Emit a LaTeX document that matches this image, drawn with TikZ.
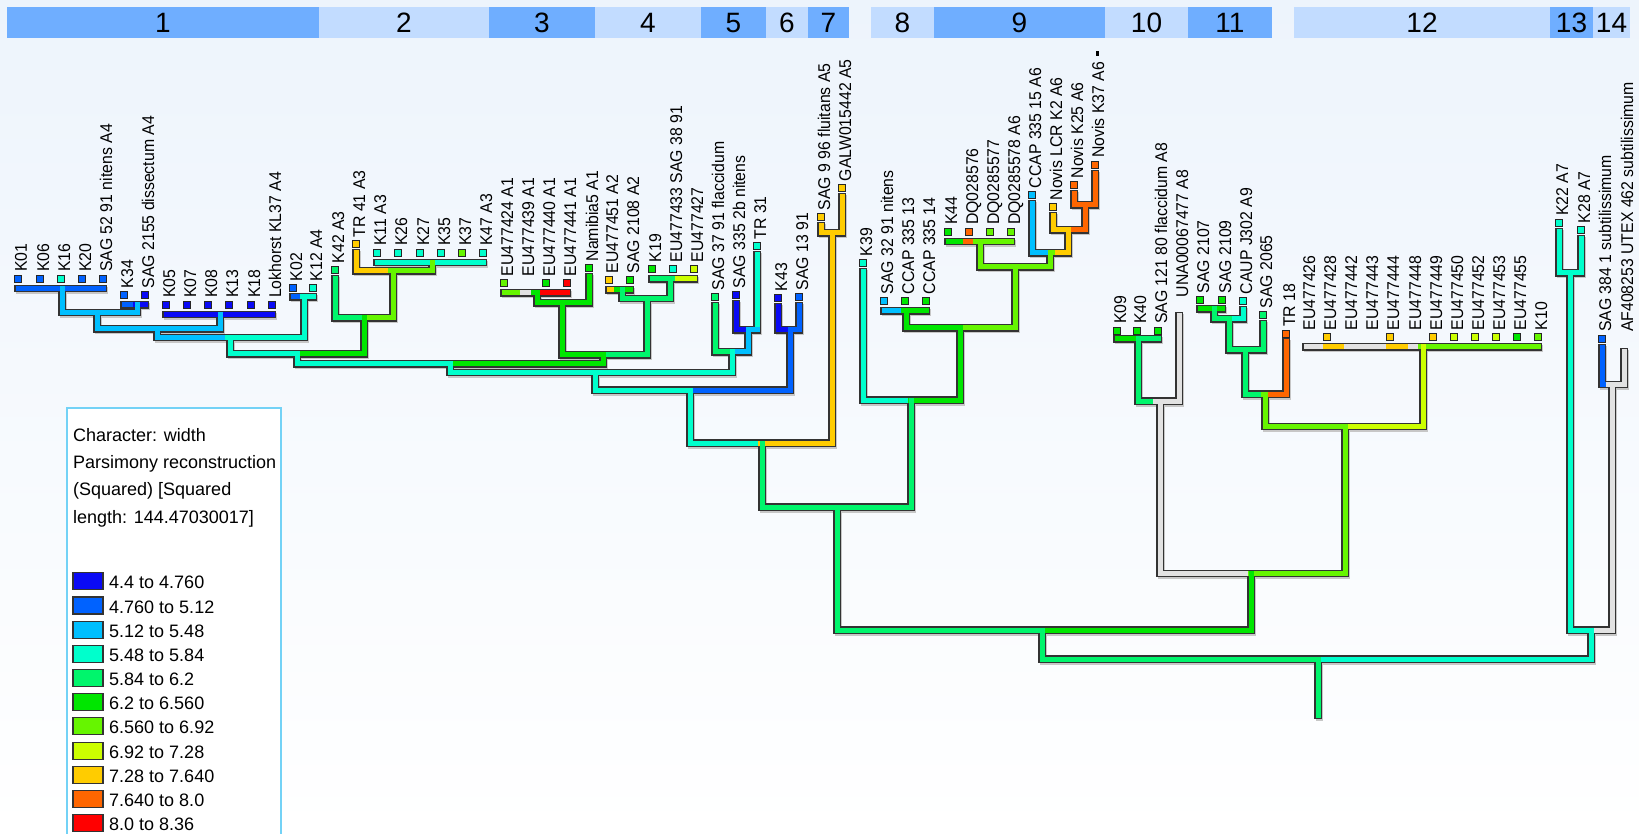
\documentclass[tikz,border=0pt]{standalone}
\usepackage{fontspec}
\setmainfont{Liberation Sans}
\newfontfamily\labfont{Liberation Sans}[FakeStretch=0.93]
\pgfdeclarelayer{back}\pgfdeclarelayer{shad}\pgfdeclarelayer{ol}
\pgfsetlayers{back,shad,ol,main}
\definecolor{c1}{HTML}{0A0AF5}
\definecolor{c2}{HTML}{0062FF}
\definecolor{c3}{HTML}{00BFFF}
\definecolor{c4}{HTML}{00FFCC}
\definecolor{c5}{HTML}{00F56C}
\definecolor{c6}{HTML}{00E600}
\definecolor{c7}{HTML}{66F500}
\definecolor{c8}{HTML}{CCFF00}
\definecolor{c9}{HTML}{FFCC00}
\definecolor{c10}{HTML}{FF6600}
\definecolor{c11}{HTML}{FF0000}
\definecolor{cg}{HTML}{E2E2E2}
\definecolor{bard}{HTML}{6FAEFF}
\definecolor{barl}{HTML}{C2DCFF}
\definecolor{bgtop}{HTML}{EDF4FC}
\tikzset{
  outline/.style={line width=7.4pt, black!80, line cap=rect},
  fillline/.style={line width=5pt, line cap=rect},
  shadowline/.style={line width=7.4pt, black!22, line cap=rect},
  tipsq/.style={draw=black!85, line width=0.8pt, minimum size=7pt, inner sep=0pt},
  lab/.style={rotate=90, anchor=base west, inner sep=0pt, font=\labfont\fontsize{17}{17}\selectfont},
  topnum/.style={anchor=base, inner sep=0pt, font=\fontsize{28}{28}\selectfont},
  legtxt/.style={anchor=base west, inner sep=0pt, font=\fontsize{18}{18}\selectfont},
  swatch/.style={draw=black!80, line width=1.2pt}
}
\newcommand\HB[4]{%
  \begin{pgfonlayer}{shad}\draw[shadowline] (#3+1.5,#2+1.8) -- (#4+1.5,#2+1.8);\end{pgfonlayer}
  \begin{pgfonlayer}{ol}\draw[outline] (#3,#2) -- (#4,#2);\end{pgfonlayer}
  \draw[fillline,#1] (#3,#2) -- (#4,#2);}
\newcommand\VB[4]{%
  \begin{pgfonlayer}{shad}\draw[shadowline] (#2+1.5,#3+1.8) -- (#2+1.5,#4+1.8);\end{pgfonlayer}
  \begin{pgfonlayer}{ol}\draw[outline] (#2,#3) -- (#2,#4);\end{pgfonlayer}
  \draw[fillline,#1] (#2,#3) -- (#2,#4);}
\newcommand\TQ[5]{%
  \node[tipsq,fill=#4] (#1) at (#2,#3) {};
  \node[lab] (#1-l) at (#2+9,#3-6.5) {#5};}
\newcommand\TN[4]{%
  \coordinate (#1) at (#2,#3);
  \node[lab] (#1-l) at (#2+9,#3-6.5) {#4};}
\newcommand\TOPSEG[4]{%
  \fill[#3] (#1,7) rectangle (#2,38);
  \node[topnum] at ({(#1+#2)/2},32.5) {#4};}
\newcommand\LEG[3]{%
  \draw[swatch,fill=#2] (73,#1-9.5) rectangle (103,#1+7.5);
  \node[legtxt] at (109,#1+6.5) {#3};}
\begin{document}
\begin{tikzpicture}[x=1pt,y=-1pt]
\useasboundingbox (0,0) rectangle (1639,834);
\begin{pgfonlayer}{back}
\shade[top color=bgtop, bottom color=white] (0,0) rectangle (1639,834);
\end{pgfonlayer}
% top bar
\TOPSEG{7}{319}{bard}{1}
\TOPSEG{319}{489}{barl}{2}
\TOPSEG{489}{595}{bard}{3}
\TOPSEG{595}{701}{barl}{4}
\TOPSEG{701}{766}{bard}{5}
\TOPSEG{766}{808}{barl}{6}
\TOPSEG{808}{849}{bard}{7}
\TOPSEG{871}{934}{barl}{8}
\TOPSEG{934}{1105}{bard}{9}
\TOPSEG{1105}{1188}{barl}{10}
\TOPSEG{1188}{1272}{bard}{11}
\TOPSEG{1294}{1550}{barl}{12}
\TOPSEG{1550}{1593}{bard}{13}
\TOPSEG{1593}{1630}{barl}{14}
% legend
\draw[cyan!55, line width=1.2pt, fill=white] (67,408) rectangle (281,840);
\node[legtxt] at (73,441.5) {Character: width};
\node[legtxt] at (73,468.5) {Parsimony reconstruction};
\node[legtxt] at (73,495.5) {(Squared) [Squared};
\node[legtxt] at (73,523.5) {length: 144.47030017]};
\LEG{582}{c1}{4.4 to 4.760}
\LEG{606.5}{c2}{4.760 to 5.12}
\LEG{631}{c3}{5.12 to 5.48}
\LEG{655}{c4}{5.48 to 5.84}
\LEG{679}{c5}{5.84 to 6.2}
\LEG{703}{c6}{6.2 to 6.560}
\LEG{727}{c7}{6.560 to 6.92}
\LEG{752}{c8}{6.92 to 7.28}
\LEG{776}{c9}{7.28 to 7.640}
\LEG{800}{c10}{7.640 to 8.0}
\LEG{824}{c11}{8.0 to 8.36}
% ---------- tips ----------
\TQ{k01}{18}{278.5}{c2}{K01}
\TQ{k06}{40}{278.5}{c2}{K06}
\TQ{k16}{61}{278.5}{c4}{K16}
\TQ{k20}{82}{278.5}{c2}{K20}
\TQ{s52}{103}{278.5}{c2}{SAG 52 91 nitens A4}
\TQ{k34}{124}{295}{c2}{K34}
\TQ{s2155}{145}{295}{c1}{SAG 2155 dissectum A4}
\TQ{k05}{166}{304.5}{c1}{K05}
\TQ{k07}{187}{304.5}{c1}{K07}
\TQ{k08}{208}{304.5}{c1}{K08}
\TQ{k13}{229}{304.5}{c1}{K13}
\TQ{k18}{251}{304.5}{c1}{K18}
\TQ{lok}{272}{304.5}{c1}{Lokhorst KL37 A4}
\TQ{k02}{293}{288}{c2}{K02}
\TQ{k12}{313}{288}{c4}{K12 A4}
\TQ{k42}{335}{270}{c5}{K42 A3}
\TQ{tr41}{356}{244}{c9}{TR 41 A3}
\TQ{k11}{377}{252.5}{c4}{K11 A3}
\TQ{k26}{398}{252.5}{c4}{K26}
\TQ{k27}{420}{252.5}{c4}{K27}
\TQ{k35}{441}{252.5}{c4}{K35}
\TQ{k37}{462}{252.5}{c7}{K37}
\TQ{k47}{483}{252.5}{c4}{K47 A3}
\TQ{eu24}{504}{283}{c7}{EU477424 A1}
\TN{eu39}{525}{283}{EU477439 A1}
\TQ{eu40}{546}{283}{c6}{EU477440 A1}
\TQ{eu41}{567}{283}{c11}{EU477441 A1}
\TQ{nam}{589}{268}{c6}{Namibia5 A1}
\TQ{eu51}{609}{280}{c9}{EU477451 A2}
\TQ{s2108}{630}{280}{c6}{SAG 2108 A2}
\TQ{k19}{652}{269}{c6}{K19}
\TQ{eu33}{673}{269}{c4}{EU477433 SAG 38 91}
\TQ{eu27}{694}{269}{c8}{EU477427}
\TQ{s37}{715}{297}{c5}{SAG 37 91 flaccidum}
\TQ{s335}{736}{295}{c1}{SAG 335 2b nitens}
\TQ{tr31}{757}{246}{c4}{TR 31}
\TQ{k43}{778}{298}{c1}{K43}
\TQ{s13}{799}{297}{c2}{SAG 13 91}
\TQ{s996}{821}{217}{c9}{SAG 9 96 fluitans A5}
\TQ{galw}{842}{188}{c9}{GALW015442 A5}
\TQ{k39}{863}{263}{c4}{K39}
\TQ{s32}{884}{301}{c3}{SAG 32 91 nitens}
\TQ{cc13}{905}{301}{c6}{CCAP 335 13}
\TQ{cc14}{926}{301}{c6}{CCAP 335 14}
\TQ{k44}{948}{231.5}{c6}{K44}
\TQ{dq76}{969}{231.5}{c10}{DQ028576}
\TQ{dq77}{990}{231.5}{c7}{DQ0285577}
\TQ{dq78}{1011}{231.5}{c7}{DQ0285578 A6}
\TQ{cc15}{1032}{195}{c3}{CCAP 335 15 A6}
\TQ{nlcr}{1053}{207}{c9}{Novis LCR K2 A6}
\TQ{nk25}{1074}{185}{c10}{Novis K25 A6}
\TQ{nk37}{1095}{164.5}{c10}{Novis K37 A6}
\fill[black] (1096,51) rectangle (1098.5,56);
\TQ{k09}{1117}{330.5}{c6}{K09}
\TQ{k40}{1137}{330.5}{c6}{K40}
\TQ{s121}{1158}{330.5}{c6}{SAG 121 80 flaccidum A8}
\TN{una}{1179}{304}{UNA00067477 A8}
\TQ{s2107}{1200}{300}{c6}{SAG 2107}
\TQ{s2109}{1222}{300}{c6}{SAG 2109}
\TQ{caup}{1243}{301}{c4}{CAUP J302 A9}
\TQ{s2065}{1263}{315}{c5}{SAG 2065}
\TQ{tr18}{1286}{333.5}{c10}{TR 18}
\TN{e26}{1306}{337}{EU477426}
\TQ{e28}{1327}{337}{c9}{EU477428}
\TN{e42}{1348}{337}{EU477442}
\TN{e43}{1369}{337}{EU477443}
\TQ{e44}{1390}{337}{c9}{EU477444}
\TN{e48}{1412}{337}{EU477448}
\TQ{e49}{1433}{337}{c9}{EU477449}
\TQ{e50}{1454}{337}{c8}{EU477450}
\TQ{e52}{1475}{337}{c8}{EU477452}
\TQ{e53}{1496}{337}{c8}{EU477453}
\TQ{e55}{1517}{337}{c6}{EU477455}
\TQ{k10}{1538}{337}{c7}{K10}
\TQ{k22}{1559}{222.5}{c4}{K22 A7}
\TQ{k28}{1581}{230}{c4}{K28 A7}
\TQ{s384}{1602}{338.5}{c2}{SAG 384 1 subtilissimum}
\TN{af}{1624}{338.5}{AF408253 UTEX 462 subtilissimum}
% ---------- branches ----------
% clade 1
\HB{c2}{288.5}{18}{103}
\VB{c3}{62}{288.5}{312.5}
\HB{c2}{305}{124}{135}\HB{c1}{305}{135}{145}
\VB{c3}{137}{305}{312.5}
\HB{c3}{312.5}{62}{137}
\VB{c3}{97}{312.5}{329}
\HB{c1}{314.5}{166}{272}
\VB{c3}{220}{314.5}{329}
\HB{c3}{329}{97}{220}
\VB{c3}{157}{329}{337.5}
\HB{c2}{297}{293}{302}\HB{c4}{297}{302}{313}
\VB{c4}{304}{297}{337.5}
\HB{c3}{337.5}{157}{227}\HB{c4}{337.5}{227}{304}
\VB{c4}{230}{337.5}{354}
% clade 2
\VB{c5}{335}{279}{318}
\VB{c9}{356}{253}{271}
\HB{c4}{262.5}{377}{483}
\VB{c7}{432}{262.5}{271}
\HB{c9}{271}{356}{390}\HB{c7}{271}{390}{432}
\VB{c7}{393}{271}{318}
\HB{c5}{318}{335}{366}\HB{c7}{318}{366}{393}
\VB{c6}{364}{318}{354}
\HB{c4}{354}{230}{300}\HB{c6}{354}{300}{364}
\VB{c4}{297}{354}{364}
\HB{c4}{364}{297}{453}\HB{c6}{364}{453}{603}
\VB{c4}{450}{364}{372.5}
% clade 3
\HB{c7}{293}{504}{522}\HB{cg}{293}{522}{533}\HB{c6}{293}{533}{539}\HB{c11}{293}{539}{567}
\VB{c6}{537}{293}{303}
\VB{c6}{589}{277}{303}
\HB{c6}{303}{537}{589}
\VB{c6}{562}{303}{355}
% clade 4
\HB{c9}{290}{609}{616}\HB{c6}{290}{616}{630}
\VB{c5}{622}{290}{298.5}
\HB{c5}{279}{652}{677}\HB{c8}{279}{677}{694}
\VB{c5}{670}{279}{298.5}
\HB{c5}{298.5}{622}{670}
\VB{c5}{647}{298.5}{355}
\HB{c6}{355}{562}{603}\HB{c5}{355}{603}{647}
\VB{c6}{603}{355}{364}
% clade 5
\VB{c5}{715}{306}{352}
\VB{c1}{736}{304}{330}
\VB{c4}{757}{255}{330}
\HB{c1}{330}{736}{748}\HB{c3}{330}{748}{757}
\VB{c3}{748}{330}{352}
\HB{c5}{352}{715}{732}\HB{c3}{352}{732}{748}
\VB{c4}{732}{352}{372.5}
\HB{c4}{372.5}{450}{732}
\VB{c4}{595}{372.5}{390}
% clade 6
\VB{c1}{778}{307}{330}
\VB{c2}{799}{306}{330}
\HB{c1}{330}{778}{790}\HB{c2}{330}{790}{799}
\VB{c2}{790}{330}{390}
\HB{c4}{390}{595}{690}\HB{c2}{390}{690}{790}
\VB{c4}{690}{390}{443}
% clade 7
\VB{c9}{821}{226}{233}
\VB{c9}{842}{197}{233}
\HB{c9}{233}{821}{842}
\VB{c9}{832}{233}{443}
\HB{c4}{443}{690}{760}\HB{c9}{443}{760}{832}
\VB{c5}{762}{443}{507}
\HB{c5}{507}{762}{911}
\VB{c5}{837}{507}{630}
% clade 8
\VB{c4}{863}{272}{400}
\HB{c3}{311}{884}{903}\HB{c6}{311}{903}{926}
\VB{c6}{906}{311}{328}
% clade 9
\HB{c6}{241.5}{948}{965}\HB{c10}{241.5}{965}{975}\HB{c7}{241.5}{975}{1011}
\VB{c7}{980}{241.5}{267}
\VB{c3}{1032}{204}{253}
\VB{c9}{1053}{216}{230}
\VB{c10}{1074}{194}{205}
\VB{c10}{1095}{173.5}{205}
\HB{c10}{205}{1074}{1095}
\VB{c10}{1085}{205}{230}
\HB{c9}{230}{1053}{1073}\HB{c10}{230}{1073}{1085}
\VB{c9}{1068}{230}{253}
\HB{c3}{253}{1032}{1050}\HB{c7}{253}{1050}{1057}\HB{c9}{253}{1057}{1068}
\VB{c7}{1050}{253}{267}
\HB{c7}{267}{980}{1050}
\VB{c7}{1015}{267}{328}
\HB{c6}{328}{906}{963}\HB{c7}{328}{963}{1015}
\VB{c6}{960}{328}{400}
\HB{c4}{400}{863}{910}\HB{c6}{400}{910}{960}
\VB{c5}{911}{400}{507}
% clade 10
\HB{c6}{339}{1117}{1138}\HB{c5}{339}{1138}{1158}
\VB{c5}{1138}{339}{401}
\VB{cg}{1179}{315.7}{401}
\HB{c5}{401}{1138}{1155}\HB{cg}{401}{1155}{1179}
\VB{cg}{1160}{401}{573.5}
% clade 11
\HB{c6}{309}{1200}{1222}
\VB{c5}{1214}{309}{319}
\VB{c4}{1243}{310}{319}
\HB{c5}{319}{1214}{1230}\HB{c4}{319}{1230}{1243}
\VB{c5}{1229}{319}{350}
\VB{c5}{1263}{324}{350}
\HB{c5}{350}{1229}{1263}
\VB{c5}{1245}{350}{394}
\VB{c10}{1286}{342}{394}
\HB{c5}{394}{1245}{1263}\HB{c7}{394}{1263}{1268}\HB{c10}{394}{1268}{1286}
\VB{c7}{1265}{394}{426.5}
% clade 12
\HB{cg}{347}{1306}{1325}\HB{c9}{347}{1325}{1346}\HB{cg}{347}{1346}{1388}\HB{c9}{347}{1388}{1410}\HB{cg}{347}{1410}{1420}\HB{c7}{347}{1420}{1538}
\VB{c8}{1423}{347}{426.5}
\HB{c7}{426.5}{1265}{1345}\HB{c8}{426.5}{1345}{1423}
\VB{c7}{1345}{426.5}{573.5}
\HB{cg}{573.5}{1160}{1250}\HB{c7}{573.5}{1250}{1345}
\VB{c6}{1251}{573.5}{630}
\HB{c5}{630}{837}{1042}\HB{c6}{630}{1042}{1251}
% clade 13
\VB{c4}{1559}{231.5}{273}
\VB{c4}{1581}{239}{273}
\HB{c4}{273}{1559}{1581}
\VB{c4}{1570}{273}{630}
% clade 14
\VB{c2}{1602}{347.5}{384.5}
\VB{cg}{1624}{351.7}{384.5}
\HB{c2}{384.5}{1602}{1608}\HB{cg}{384.5}{1608}{1624}
\VB{cg}{1612}{384.5}{630}
\HB{c4}{630}{1570}{1591}\HB{cg}{630}{1591}{1612}
\VB{c4}{1591}{630}{659}
\HB{c5}{659}{1042}{1318}\HB{c4}{659}{1318}{1591}
\VB{c5}{1042}{630}{659}
\VB{c5}{1318}{659}{715}
\end{tikzpicture}
\end{document}
